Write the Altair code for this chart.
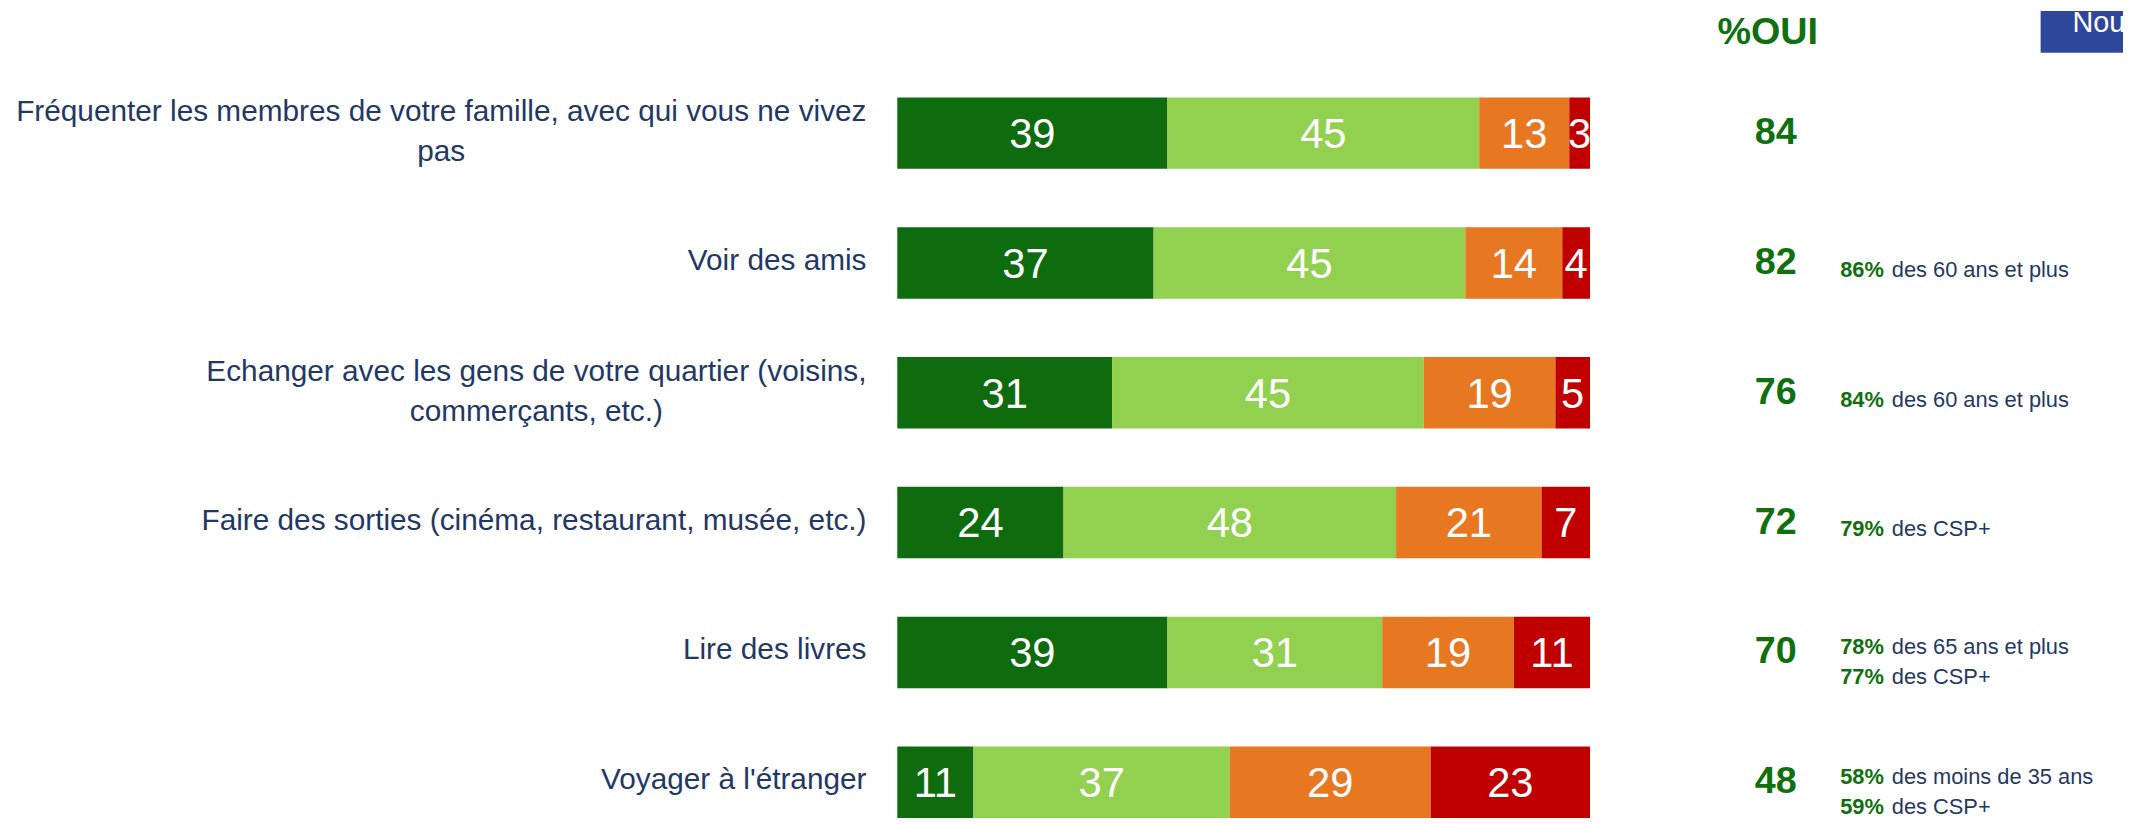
import altair as alt
import pandas as pd

# ---------------- data ----------------
labels_line1 = [
    "Fréquenter les membres de votre famille, avec qui vous ne vivez",
    "Voir des amis",
    "Echanger avec les gens de votre quartier (voisins,",
    "Faire des sorties (cinéma, restaurant, musée, etc.)",
    "Lire des livres",
    "Voyager à l'étranger",
]
labels_line2 = ["pas", "", "commerçants, etc.)", "", "", ""]

series_names = ["Oui, tout à fait", "Oui, plutôt", "Non, plutôt pas", "Non, pas du tout"]
tout_a_fait = [39, 37, 31, 24, 39, 11]
plutot_oui = [45, 45, 45, 48, 31, 37]
plutot_non = [13, 14, 19, 21, 19, 29]
pas_du_tout = [3, 4, 5, 7, 11, 23]
total_oui = [84, 82, 76, 72, 70, 48]

ann_row = [1, 2, 3, 4, 4, 5, 5]
ann_line = [0, 0, 0, 0, 1, 0, 1]
ann_pct = ["86%", "84%", "79%", "78%", "77%", "58%", "59%"]
ann_text = ["des 60 ans et plus", "des 60 ans et plus", "des CSP+",
            "des 65 ans et plus", "des CSP+", "des moins de 35 ans", "des CSP+"]

header = ["%OUI"]
badge = ["Nouveau"]

# ---------------- styles ----------------
FONT = "Liberation Sans, Arial, sans-serif"
COLORS = ["#0E6B0E", "#92D050", "#E87722", "#C00000"]
NAVY = "#1F3864"
TXT_GREEN = "#107010"
BOX = "#2F479B"

W, H = 2131, 816
X0, X100 = 896.0, 1594.0
PX = (X100 - X0) / 100.0
x_scale = alt.Scale(domain=[-X0 / PX, (W - X0) / PX], nice=False, zero=False)
rows = list(range(len(labels_line1)))
y_scale = alt.Scale(domain=rows, range=[57.6, 842.4], paddingInner=0.4495, paddingOuter=0.22475)
Y = alt.Y("row:O", scale=y_scale, axis=None)

LABEL_RIGHT = 865
LABEL_FS = 30

# Arial / Liberation Sans advance widths (per 1000 em) to centre second label lines
ARIAL = {' ': 278, '(': 333, ')': 333, ',': 278, '.': 278, "'": 191,
         'a': 556, 'b': 556, 'c': 500, 'd': 556, 'e': 556, 'f': 278, 'g': 556, 'h': 556,
         'i': 222, 'j': 222, 'k': 500, 'l': 222, 'm': 833, 'n': 556, 'o': 556, 'p': 556,
         'q': 556, 'r': 333, 's': 500, 't': 278, 'u': 556, 'v': 500, 'w': 722, 'x': 500,
         'y': 500, 'z': 500, 'é': 556, 'ç': 500, 'à': 556, 'E': 667, 'F': 611, 'V': 667,
         'L': 556}


def text_width(s, fs):
    return sum(ARIAL.get(c, 556) for c in s) * fs / 1000.0


# ---------------- tables ----------------
series_values = [tout_a_fait, plutot_oui, plutot_non, pas_du_tout]
bar_rows = []
for k, (name, vals) in enumerate(zip(series_names, series_values)):
    for r, v in zip(rows, vals):
        bar_rows.append({"row": r, "serie": name, "k": k, "value": v})
df_bars = pd.DataFrame(bar_rows)

df_lab = pd.DataFrame({
    "row": rows,
    "l1": labels_line1,
    "l2": labels_line2,
    "nlines": [2 if s else 1 for s in labels_line2],
    "l2x": [((LABEL_RIGHT - text_width(a, LABEL_FS) / 2.0) - X0) / PX for a in labels_line1],
})

df_tot = pd.DataFrame({"row": rows, "total": total_oui})

nl = {r: ann_row.count(r) for r in set(ann_row)}
df_ann = pd.DataFrame({
    "row": ann_row,
    "line": ann_line,
    "nlines": [nl[r] for r in ann_row],
    "pct": ann_pct,
    "txt": ann_text,
})

# ---------------- layers ----------------
stacked = alt.Chart(df_bars).transform_stack(
    stack="value", groupby=["row"], as_=["v0", "v1"],
    sort=[alt.SortField("k", order="ascending")]
)

bars = stacked.mark_bar().encode(
    x=alt.X("v0:Q", scale=x_scale, axis=None),
    x2="v1:Q",
    y=Y,
    color=alt.Color("serie:N", scale=alt.Scale(domain=series_names, range=COLORS), legend=None),
)

bar_text = stacked.transform_calculate(mid="(datum.v0 + datum.v1) / 2").mark_text(
    color="white", fontSize=42, font=FONT, align="center", baseline="middle", dy=2
).encode(x=alt.X("mid:Q", scale=x_scale), y=Y, text="value:Q")

lab_base = alt.Chart(df_lab)
lab_single = lab_base.transform_filter("datum.nlines == 1").mark_text(
    align="right", baseline="middle", fontSize=LABEL_FS, font=FONT, color=NAVY, dy=-2
).encode(x=alt.value(LABEL_RIGHT), y=Y, text="l1:N")
lab_multi1 = lab_base.transform_filter("datum.nlines == 2").mark_text(
    align="right", baseline="middle", fontSize=LABEL_FS, font=FONT, color=NAVY, dy=-21
).encode(x=alt.value(LABEL_RIGHT), y=Y, text="l1:N")
lab_multi2 = lab_base.transform_filter("datum.nlines == 2").mark_text(
    align="center", baseline="middle", fontSize=LABEL_FS, font=FONT, color=NAVY, dy=19
).encode(x=alt.X("l2x:Q", scale=x_scale), y=Y, text="l2:N")

totals = alt.Chart(df_tot).mark_text(
    align="center", baseline="middle", fontSize=38, fontWeight="bold", font=FONT, color=TXT_GREEN
).encode(x=alt.value(1781), y=Y, text="total:Q")

ann_layers = []
for cond, dy in [("datum.nlines == 1", 7),
                 ("datum.nlines == 2 && datum.line == 0", -5),
                 ("datum.nlines == 2 && datum.line == 1", 25)]:
    base = alt.Chart(df_ann).transform_filter(cond)
    ann_layers.append(base.mark_text(
        align="left", baseline="middle", fontSize=22, fontWeight="bold", font=FONT,
        color=TXT_GREEN, dy=dy, clip=True
    ).encode(x=alt.value(1846), y=Y, text="pct:N"))
    ann_layers.append(base.mark_text(
        align="left", baseline="middle", fontSize=22, font=FONT, color=NAVY, dy=dy, clip=True
    ).encode(x=alt.value(1898), y=Y, text="txt:N"))

head = alt.Chart(pd.DataFrame({"t": header})).mark_text(
    align="center", baseline="middle", fontSize=38, fontWeight="bold", font=FONT, color=TXT_GREEN
).encode(x=alt.value(1773), y=alt.value(22), text="t:N")

badge_df = pd.DataFrame({"t": badge})
badge_box = alt.Chart(badge_df).mark_rect(color=BOX).encode(
    x=alt.value(2048), x2=alt.value(W), y=alt.value(0), y2=alt.value(42)
)
badge_text = alt.Chart(badge_df).mark_text(
    align="left", baseline="alphabetic", fontSize=29, font=FONT, color="white", clip=True
).encode(x=alt.value(2080), y=alt.value(21), text="t:N")

chart = alt.layer(
    bars, bar_text, lab_single, lab_multi1, lab_multi2, totals, *ann_layers,
    head, badge_box, badge_text
).properties(
    width=W, height=H, padding=0, background="white",
    autosize=alt.AutoSizeParams(type="none"),
).configure_view(stroke=None)

chart.save("out.html", embed_options={"renderer": "svg", "actions": False})
